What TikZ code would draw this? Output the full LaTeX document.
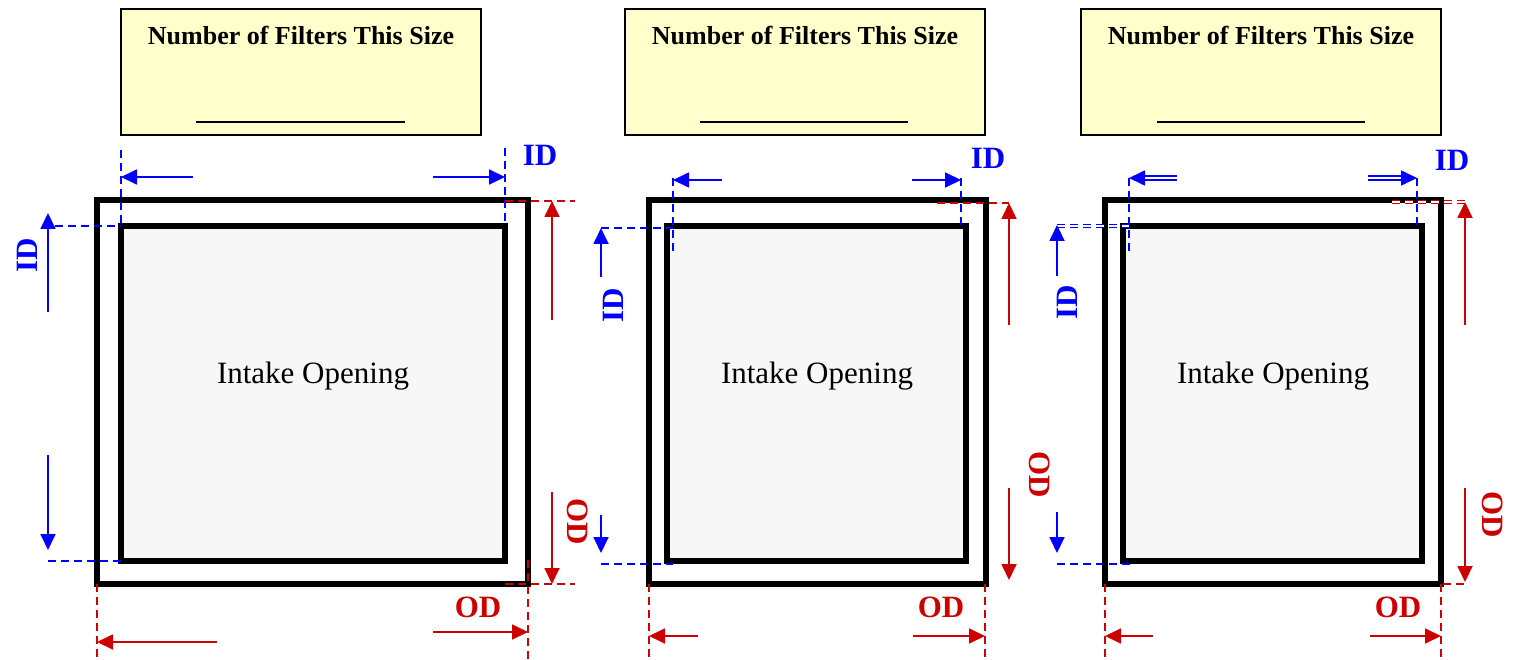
\documentclass[tikz,border=0pt]{standalone}
\usepackage{fontspec}
\setmainfont{Liberation Serif}
\usetikzlibrary{arrows.meta}

\definecolor{idblue}{RGB}{0,0,255}
\definecolor{odred}{RGB}{204,0,0}
\definecolor{notefill}{RGB}{255,255,204}
\definecolor{openfill}{RGB}{247,247,247}

\tikzset{
  countbox/.style={draw=black, line width=1.5pt, fill=notefill},
  outerframe/.style={draw=black, line width=6pt},
  opening/.style={draw=black, line width=6pt, fill=openfill},
  idguide/.style={idblue, line width=1.6pt, dash pattern=on 8pt off 5pt},
  odguide/.style={odred, line width=1.6pt, dash pattern=on 8pt off 5pt},
  idarrow/.style={idblue, line width=1.8pt, -{Triangle[length=16pt,width=15pt]}},
  odarrow/.style={odred, line width=1.8pt, -{Triangle[length=16pt,width=15pt]}},
  idlabel/.style={idblue, font=\fontsize{31}{34}\selectfont\bfseries, inner sep=0pt},
  odlabel/.style={odred, font=\fontsize{31}{34}\selectfont\bfseries, inner sep=0pt},
  boxtitle/.style={font=\fontsize{26}{30}\selectfont\bfseries, inner sep=0pt},
  intake/.style={font=\fontsize{31}{36}\selectfont, inner sep=0pt}
}

\begin{document}
\begin{tikzpicture}[x=1pt, y=-1pt]

\useasboundingbox ( 0, 0 ) rectangle ( 1520, 660 );

%%% Panel 1

% Count box
\draw [countbox] ( 121, 9 ) rectangle ( 481, 135 );
\node [boxtitle] (title1) at ( 301, 36 ) {Number of Filters This Size};
\draw [line width=1.5pt] ( 196, 122 ) -- ( 405, 122 );

% Filter frame and opening
\draw [outerframe] ( 97, 200 ) rectangle ( 528, 584 );
\draw [opening] ( 121, 226 ) rectangle ( 505, 561 );
\node [intake] (open1) at ( 313, 376 ) {Intake Opening};

% ID across the top
\draw [idguide] ( 121, 150 ) -- ( 121, 226 );
\draw [idguide] ( 505, 148 ) -- ( 505, 226 );
\draw [idarrow] ( 193, 177 ) -- ( 121, 177 );
\draw [idarrow] ( 433, 177 ) -- ( 505, 177 );
\node [idlabel] (idtop1) at ( 540, 155 ) {ID};

% ID down the left side
\draw [idguide] ( 55, 226 ) -- ( 121, 226 );
\draw [idguide] ( 48, 561 ) -- ( 121, 561 );
\draw [idarrow] ( 48, 312 ) -- ( 48, 213 );
\draw [idarrow] ( 48, 455 ) -- ( 48, 550 );
\node [idlabel, rotate=90] (idside1) at ( 27, 255 ) {ID};

% OD down the right side
\draw [odguide] ( 505, 201 ) -- ( 575, 201 );
\draw [odguide] ( 505, 584 ) -- ( 575, 584 );
\draw [odarrow] ( 552, 320 ) -- ( 552, 201 );
\draw [odarrow] ( 552, 492 ) -- ( 552, 584 );
\node [odlabel, rotate=-90] (odside1) at ( 578, 522 ) {OD};

% OD across the bottom
\draw [odguide] ( 97, 584 ) -- ( 97, 660 );
\draw [odguide] ( 528, 560 ) -- ( 528, 660 );
\draw [odarrow] ( 217, 642 ) -- ( 97, 642 );
\draw [odarrow] ( 433, 632 ) -- ( 528, 632 );
\node [odlabel] (odbot1) at ( 478, 607 ) {OD};

%%% Panel 2

% Count box
\draw [countbox] ( 625, 9 ) rectangle ( 985, 135 );
\node [boxtitle] (title2) at ( 805, 36 ) {Number of Filters This Size};
\draw [line width=1.5pt] ( 700, 122 ) -- ( 908, 122 );

% Filter frame and opening
\draw [outerframe] ( 649, 200 ) rectangle ( 986, 584 );
\draw [opening] ( 667, 226 ) rectangle ( 966, 561 );
\node [intake] (open2) at ( 817, 376 ) {Intake Opening};

% ID across the top
\draw [idguide] ( 673, 178 ) -- ( 673, 252 );
\draw [idguide] ( 961, 178 ) -- ( 961, 228 );
\draw [idarrow] ( 722, 180 ) -- ( 673, 180 );
\draw [idarrow] ( 912, 180 ) -- ( 961, 180 );
\node [idlabel] (idtop2) at ( 988, 158 ) {ID};

% ID down the left side
\draw [idguide] ( 601, 228 ) -- ( 673, 228 );
\draw [idguide] ( 601, 564 ) -- ( 673, 564 );
\draw [idarrow] ( 601, 277 ) -- ( 601, 228 );
\draw [idarrow] ( 601, 515 ) -- ( 601, 553 );
\node [idlabel, rotate=90] (idside2) at ( 613, 305 ) {ID};

% OD down the right side
\draw [odguide] ( 937, 203 ) -- ( 1009, 203 );
\draw [odarrow] ( 1009, 325 ) -- ( 1009, 203 );
\draw [odarrow] ( 1009, 488 ) -- ( 1009, 580 );
\node [odlabel, rotate=-90] (odside2) at ( 1040, 475 ) {OD};

% OD across the bottom
\draw [odguide] ( 649, 584 ) -- ( 649, 660 );
\draw [odguide] ( 985, 584 ) -- ( 985, 660 );
\draw [odarrow] ( 698, 636 ) -- ( 649, 636 );
\draw [odarrow] ( 913, 636 ) -- ( 985, 636 );
\node [odlabel] (odbot2) at ( 941, 607 ) {OD};

%%% Panel 3

% Count box
\draw [countbox] ( 1081, 9 ) rectangle ( 1441, 135 );
\node [boxtitle] (title3) at ( 1261, 36 ) {Number of Filters This Size};
\draw [line width=1.5pt] ( 1157, 122 ) -- ( 1365, 122 );

% Filter frame and opening
\draw [outerframe] ( 1105, 200 ) rectangle ( 1441, 584 );
\draw [opening] ( 1123, 226 ) rectangle ( 1422, 561 );
\node [intake] (open3) at ( 1273, 376 ) {Intake Opening};

% ID across the top
\draw [idguide] ( 1129, 178 ) -- ( 1129, 252 );
\draw [idguide] ( 1417, 178 ) -- ( 1417, 228 );
\draw [idarrow, double, double distance=1.5pt] ( 1177, 178 ) -- ( 1129, 178 );
\draw [idarrow, double, double distance=1.5pt] ( 1368, 178 ) -- ( 1417, 178 );
\node [idlabel] (idtop3) at ( 1452, 160 ) {ID};

% ID down the left side
\draw [idguide, double, double distance=1.5pt] ( 1057, 226 ) -- ( 1129, 226 );
\draw [idguide] ( 1057, 564 ) -- ( 1130, 564 );
\draw [idarrow] ( 1057, 276 ) -- ( 1057, 225 );
\draw [idarrow] ( 1057, 512 ) -- ( 1057, 553 );
\node [idlabel, rotate=90] (idside3) at ( 1067, 302 ) {ID};

% OD down the right side
\draw [odguide, double, double distance=1.5pt] ( 1392, 202 ) -- ( 1465, 202 );
\draw [odguide] ( 1443, 584 ) -- ( 1465, 584 );
\draw [odarrow] ( 1465, 325 ) -- ( 1465, 202 );
\draw [odarrow] ( 1465, 488 ) -- ( 1465, 582 );
\node [odlabel, rotate=-90] (odside3) at ( 1493, 515 ) {OD};

% OD across the bottom
\draw [odguide] ( 1105, 584 ) -- ( 1105, 660 );
\draw [odguide] ( 1441, 584 ) -- ( 1441, 660 );
\draw [odarrow] ( 1153, 636 ) -- ( 1105, 636 );
\draw [odarrow] ( 1370, 636 ) -- ( 1441, 636 );
\node [odlabel] (odbot3) at ( 1398, 607 ) {OD};

\end{tikzpicture}
\end{document}
